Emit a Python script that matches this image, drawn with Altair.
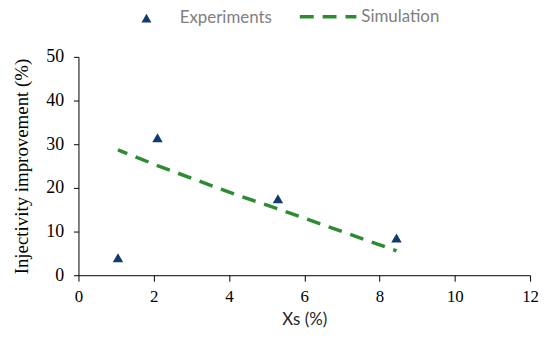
import altair as alt
import pandas as pd

exp_x = [1.05, 2.1, 5.3, 8.45]
exp_y = [4.0, 31.5, 17.5, 8.5]
sim_x = [1.05, 2.1, 4.2, 5.3, 8.45]
sim_y = [28.7, 25.1, 18.4, 15.2, 5.6]

df_exp = pd.DataFrame({"x": exp_x, "y": exp_y, "series": "Experiments"})
df_sim = pd.DataFrame({"x": sim_x, "y": sim_y, "series": "Simulation"})

SERIF = "'Liberation Serif', 'Times New Roman', Times, serif"

xscale = alt.Scale(domain=[0, 12], nice=False, zero=True)
yscale = alt.Scale(domain=[0, 50], nice=False)

xaxis = alt.Axis(values=[0, 2, 4, 6, 8, 10, 12], title="Xs (%)", grid=False,
                 domainColor="black", tickColor="black", tickSize=6,
                 labelFont=SERIF, labelFontSize=17, labelColor="black",
                 titleFont="Lato", titleFontSize=17, titleFontWeight="normal",
                 titleColor="#262626", labelPadding=7, titlePadding=8, labelFlush=False)
yaxis = alt.Axis(values=[0, 10, 20, 30, 40, 50], title="Injectivity improvement (%)",
                 grid=False, domainColor="black", tickColor="black", tickSize=5,
                 labelFont=SERIF, labelFontSize=18, labelColor="black",
                 titleFont=SERIF, titleFontSize=19, titleFontWeight="normal",
                 titleColor="black", labelPadding=10, titlePadding=14)

points = alt.Chart(df_exp).mark_point(filled=True, opacity=1, size=110, color="#123A6E").encode(
    x=alt.X("x:Q", scale=xscale, axis=xaxis),
    y=alt.Y("y:Q", scale=yscale, axis=yaxis),
    shape=alt.Shape("series:N", scale=alt.Scale(range=["triangle-up"]),
                    legend=alt.Legend(orient="none", legendX=60, legendY=-47.5, title=None,
                                      labelFont="Lato", labelFontSize=17, labelColor="#7F7F7F",
                                      symbolFillColor="#123A6E", symbolStrokeColor="#123A6E",
                                      symbolSize=100, labelOffset=25, padding=0)),
)

line = alt.Chart(df_sim).mark_line(color="#2E8B32", strokeWidth=3.5, strokeDashOffset=4).encode(
    x=alt.X("x:Q", scale=xscale, axis=xaxis),
    y=alt.Y("y:Q", scale=yscale, axis=yaxis),
    strokeDash=alt.StrokeDash("series:N", scale=alt.Scale(range=[[14, 9]]),
                              legend=alt.Legend(orient="none", legendX=221, legendY=-71, title=None,
                                                labelFont="Lato", labelFontSize=17, labelColor="#7F7F7F",
                                                symbolType="stroke", symbolStrokeColor="#2E8B32",
                                                symbolStrokeWidth=3.5, symbolSize=3249,
                                                symbolDash=[12, 9], labelOffset=3, padding=0)),
)

chart = alt.layer(points, line).resolve_legend(shape="independent", strokeDash="independent").properties(
    width=455, height=220,
    autosize=alt.AutoSizeParams(type="none"),
    padding={"left": 71, "top": 48, "right": 12, "bottom": 63},
).configure_view(stroke=None)

chart.save("out.html", embed_options={"renderer": "svg", "actions": False})
